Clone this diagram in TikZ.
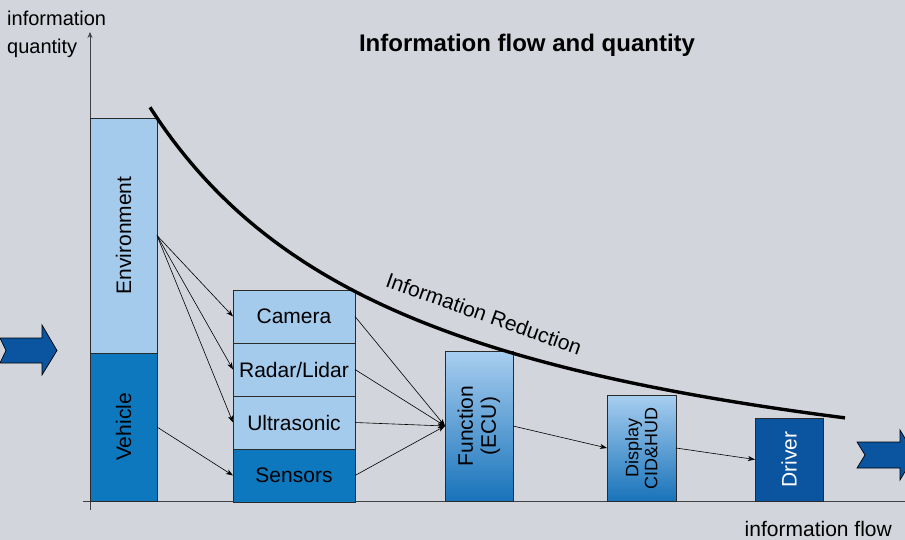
\documentclass[tikz,border=0pt]{standalone}
\usepackage{fontspec}
\setmainfont{Liberation Sans}
\usetikzlibrary{arrows.meta}
\definecolor{bg}{HTML}{D2D5DC}
\definecolor{lightb}{HTML}{A4CAEC}
\definecolor{midb}{HTML}{0E78BF}
\definecolor{darkb}{HTML}{0B55A0}
\definecolor{gradtop}{HTML}{A8CEF0}
\definecolor{gradbot}{HTML}{1873BA}
\definecolor{edge}{HTML}{2A2A2A}
\begin{document}
\begin{tikzpicture}[x=1pt,y=-1pt,
  box/.style={draw=edge,line width=0.8pt,inner sep=0pt,outer sep=0pt,anchor=north west},
  txt/.style={font=\fontsize{21}{23}\selectfont,inner sep=0pt,align=center},
  smalltxt/.style={font=\fontsize{18}{19}\selectfont,inner sep=0pt,align=center},
  arr/.style={line width=0.6pt,-{Stealth[length=7pt,width=5pt,inset=2pt]}},
  bigarrow/.style={fill=darkb,draw=black,line width=0.7pt},
  axis/.style={draw=black!75,line width=0.7pt}]
\fill[bg] (0,0) rectangle (905,540);
\useasboundingbox (0,0) rectangle (905,540);

% axes
\coordinate (yb) at (90,510);
\coordinate (yt) at (90,32);
\coordinate (xl) at (83,501);
\coordinate (xr) at (905,501);
\draw[axis,-{Stealth[length=6pt,width=5pt]}] (yb) -- (yt);
\draw[axis] (xl) -- (xr);

\node[font=\fontsize{20}{28}\selectfont,inner sep=0pt,anchor=north west,align=left] (yl) at (7,11) {information\\quantity};
\node[txt,anchor=base east] (xlab) at (892,536) {information flow};
\node[font=\bfseries\fontsize{24}{26}\selectfont,inner sep=0pt] (title) at (527,45) {Information flow and quantity};

% boxes
\node[box,fill=lightb,minimum width=67,minimum height=235] (env) at (90,118) {};
\node[box,fill=midb,minimum width=67,minimum height=148] (veh) at (90,353) {};
\node[txt,rotate=90] (envt) at (env.center) {Environment};
\node[txt,rotate=90] (veht) at (veh.center) {Vehicle};

\node[box,fill=lightb,minimum width=122,minimum height=53] (cam) at (233,290) {};
\node[box,fill=lightb,minimum width=122,minimum height=53] (rad) at (233,343) {};
\node[box,fill=lightb,minimum width=122,minimum height=53] (ult) at (233,396) {};
\node[box,fill=midb,minimum width=122,minimum height=53] (sen) at (233,449) {};
\node[txt] (camt) at (cam.center) {Camera};
\node[txt] (radt) at (rad.center) {Radar/Lidar};
\node[txt] (ultt) at (ult.center) {Ultrasonic};
\node[txt] (sent) at (sen.center) {Sensors};

\node[box,top color=gradtop,bottom color=gradbot,minimum width=68,minimum height=150] (fun) at (445,351) {};
\node[txt,rotate=90] (funt) at (fun.center) {Function\\(ECU)};
\node[box,top color=gradtop,bottom color=gradbot,minimum width=69,minimum height=106] (dis) at (607,395) {};
\node[smalltxt,rotate=90] (dist) at (dis.center) {Display\\CID\&HUD};
\node[box,fill=darkb,minimum width=68,minimum height=83] (drv) at (755,418) {};
\node[txt,rotate=90,text=white] (drvt) at (drv.center) {Driver};

% curve
\draw[line width=3.4pt] plot[domain=150:845,samples=120,smooth] (\x,{543-1220/((\x+130)/100)});
\node[txt,rotate=-19.5] (red) at (484,314) {Information Reduction};

% connectors
\draw[arr] (env.east) -- (cam.west);
\draw[arr] (env.east) -- (rad.west);
\draw[arr] (env.east) -- (ult.west);
\draw[arr] (veh.east) -- (sen.west);
\draw[arr] (cam.east) -- (fun.west);
\draw[arr] (rad.east) -- (fun.west);
\draw[arr] (ult.east) -- (fun.west);
\draw[arr] (sen.east) -- (fun.west);
\draw[arr] (fun.east) -- (dis.west);
\draw[arr] (dis.east) -- (drv.west);

% big arrows
\draw[bigarrow] (0,338) -- (42,338) -- (42,325) -- (57,350.5) -- (42,375) -- (42,363) -- (0,363) -- (6,350.5) -- cycle;
\draw[bigarrow] (857,442) -- (900,442) -- (900,430) -- (915,455) -- (900,480) -- (900,468) -- (857,468) -- (865,455) -- cycle;
\end{tikzpicture}
\end{document}
